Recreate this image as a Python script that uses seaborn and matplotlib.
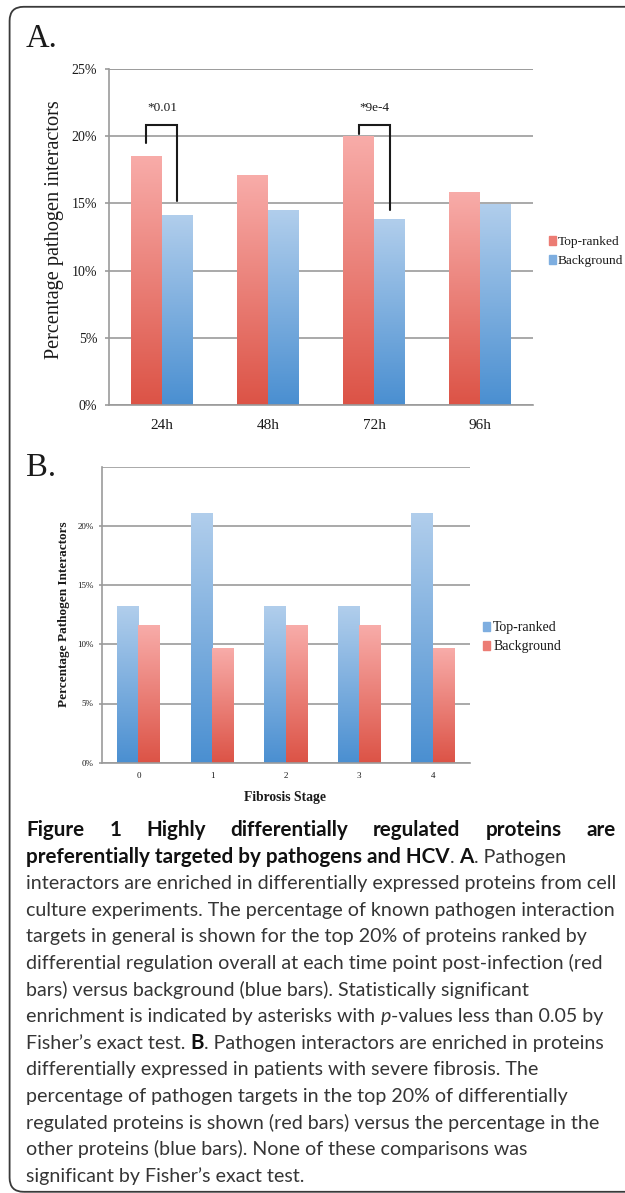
import numpy as np
import pandas as pd
import seaborn as sns
import matplotlib.pyplot as plt
from matplotlib.colors import LinearSegmentedColormap, to_hex
from matplotlib.patches import FancyBboxPatch, Patch

#%% data
# panel A: percentage pathogen interactors per time point
times = ['24h', '48h', '72h', '96h']
a_top = [18.5, 17.1, 20.0, 15.8]
a_bg = [14.1, 14.5, 13.8, 14.9]
a_ticks = [0, 5, 10, 15, 20, 25]
# significance brackets over panel A
sig_idx = [0, 2]
sig_txt = ['*0.01', '*9e-4']
sig_top = [20.8, 20.8]
sig_left = [19.5, 20.2]
sig_right = [15.2, 14.5]
sig_label_y = 22.1

# panel B: percentage pathogen interactors per fibrosis stage
stages = ['0', '1', '2', '3', '4']
b_top = [13.2, 21.1, 13.2, 13.2, 21.1]
b_bg = [11.6, 9.7, 11.6, 11.6, 9.7]
b_ticks = [0, 5, 10, 15, 20]

groups = ['Top-ranked', 'Background']

# caption, one list of (text, style) segments per printed line
caption = [
    [('Figure 1 Highly differentially regulated proteins are', 'b')],
    [('preferentially targeted by pathogens and HCV', 'b'), ('. ', 'n'), ('A', 'b'), ('. Pathogen', 'n')],
    [('interactors are enriched in differentially expressed proteins from cell', 'n')],
    [('culture experiments. The percentage of known pathogen interaction', 'n')],
    [('targets in general is shown for the top 20% of proteins ranked by', 'n')],
    [('differential regulation overall at each time point post-infection (red', 'n')],
    [('bars) versus background (blue bars). Statistically significant', 'n')],
    [('enrichment is indicated by asterisks with ', 'n'), ('p', 'i'), ('-values less than 0.05 by', 'n')],
    [('Fisher\u2019s exact test. ', 'n'), ('B', 'b'), ('. Pathogen interactors are enriched in proteins', 'n')],
    [('differentially expressed in patients with severe fibrosis. The', 'n')],
    [('percentage of pathogen targets in the top 20% of differentially', 'n')],
    [('regulated proteins is shown (red bars) versus the percentage in the', 'n')],
    [('other proteins (blue bars). None of these comparisons was', 'n')],
    [('significant by Fisher\u2019s exact test.', 'n')],
]

#%% style
W, H = 625, 1193
RED = ['#f8aca9', '#dc5346']   # top, bottom of gradient
BLUE = ['#b1ceec', '#4a8fd1']
RED_MID, BLUE_MID = '#ec7c74', '#7eaee0'
GRID = '#9b9b9b'
BAR_W = 0.58
SERIF = 'Liberation Serif'
CAP_FONT = 'Lato'

sns.set_theme(style='white')
plt.rcParams['font.family'] = SERIF
plt.rcParams['text.color'] = '#1a1a1a'
plt.rcParams['xtick.color'] = GRID
plt.rcParams['ytick.color'] = GRID
plt.rcParams['xtick.labelcolor'] = '#1a1a1a'
plt.rcParams['ytick.labelcolor'] = '#1a1a1a'


def fx(px):
    return px / W


def fy(py):
    return 1 - py / H


def fill_gradient(ax, grads):
    # replace flat bar fills with a vertical light->dark ramp
    xlim, ylim = ax.get_xlim(), ax.get_ylim()
    ramp = np.linspace(0, 1, 256).reshape(-1, 1)
    for p in ax.patches:
        key = to_hex(p.get_facecolor())
        if key not in grads:
            continue
        cmap = LinearSegmentedColormap.from_list(key, grads[key][::-1])
        x0, y0, w, h = p.get_x(), p.get_y(), p.get_width(), p.get_height()
        ax.imshow(ramp, extent=[x0, x0 + w, y0, y0 + h], origin='lower',
                  aspect='auto', cmap=cmap, zorder=2, interpolation='bilinear')
        p.set_facecolor('none')
        p.set_edgecolor('none')
    ax.set_xlim(xlim)
    ax.set_ylim(ylim)


def style_axes(ax, n, ticks, tick_fs, xtick_fs, tick_len, pad_y, pad_x):
    sns.despine(ax=ax)
    ax.set_xlim(-0.5, n - 0.5)
    ax.set_ylim(0, 25)
    ax.set_yticks(ticks)
    ax.set_yticklabels([f'{t}%' for t in ticks])
    ax.yaxis.grid(True, color=GRID, lw=1.2)
    ax.xaxis.grid(False)
    ax.set_axisbelow(True)
    ax.axhline(25, color=GRID, lw=1.2, zorder=0.5)
    ax.set_xticks(np.arange(-0.5, n), minor=True)
    ax.tick_params(axis='x', which='major', length=0, labelsize=xtick_fs, pad=pad_x)
    ax.tick_params(axis='x', which='minor', length=tick_len, width=1.2, direction='out')
    ax.tick_params(axis='y', length=tick_len, width=1.2, pad=pad_y, labelsize=tick_fs, left=True)
    for s in ['left', 'bottom']:
        ax.spines[s].set_color(GRID)
        ax.spines[s].set_linewidth(1.2)
    ax.set_xlabel('')
    ax.set_ylabel('')


fig = plt.figure(figsize=(W / 100, H / 100), dpi=100)

#%% panel A
df_a = pd.DataFrame({'Time': times * 2, 'Pct': a_top + a_bg,
                     'Group': [groups[0]] * len(times) + [groups[1]] * len(times)})
ax_a = fig.add_axes([fx(108.8), fy(405), fx(533.3) - fx(108.8), (405 - 69) / H])
sns.barplot(data=df_a, x='Time', y='Pct', hue='Group', hue_order=groups,
            palette=[RED_MID, BLUE_MID], saturation=1, width=BAR_W, gap=0,
            legend=False, ax=ax_a)
style_axes(ax_a, len(times), a_ticks, 10, 11, 3.2, 5.2, 10)
fill_gradient(ax_a, {RED_MID: RED, BLUE_MID: BLUE})

off = BAR_W / 4
for i, txt, top, left, right in zip(sig_idx, sig_txt, sig_top, sig_left, sig_right):
    ax_a.plot([i - off, i - off, i + off, i + off], [left, top, top, right],
              color='#1a1a1a', lw=1.5, zorder=4, solid_joinstyle='miter')
    ax_a.text(i, sig_label_y, txt, ha='center', va='center', fontsize=9.5, zorder=4)

fig.text(fx(55), fy(230), 'Percentage pathogen interactors', rotation=90,
         ha='center', va='center', fontsize=14.6)
fig.text(fx(26), fy(46.7), 'A.', fontsize=23.5, va='baseline')
fig.legend(handles=[Patch(color=RED_MID, label=groups[0]), Patch(color=BLUE_MID, label=groups[1])],
           loc='center left', bbox_to_anchor=(fx(549), fy(251.7)), frameon=False,
           fontsize=9.6, handlelength=0.52, handleheight=0.6, handletextpad=0.16,
           labelspacing=0.5, borderpad=0, borderaxespad=0)

#%% panel B
df_b = pd.DataFrame({'Stage': stages * 2, 'Pct': b_top + b_bg,
                     'Group': [groups[0]] * len(stages) + [groups[1]] * len(stages)})
ax_b = fig.add_axes([fx(101.6), fy(762.7), fx(469.5) - fx(101.6), (762.7 - 466.7) / H])
sns.barplot(data=df_b, x='Stage', y='Pct', hue='Group', hue_order=groups,
            palette=[BLUE_MID, RED_MID], saturation=1, width=BAR_W, gap=0,
            legend=False, ax=ax_b)
style_axes(ax_b, len(stages), b_ticks, 6.5, 6.5, 2.2, 3.4, 6.5)
fill_gradient(ax_b, {RED_MID: RED, BLUE_MID: BLUE})

fig.text(fx(63.8), fy(614), 'Percentage Pathogen Interactors', rotation=90,
         ha='center', va='center', fontsize=9.5, fontweight='bold')
fig.text(fx(285.5), fy(797.3), 'Fibrosis Stage', ha='center', va='center',
         fontsize=9.8, fontweight='bold')
fig.text(fx(26), fy(476), 'B.', fontsize=23.5, va='baseline')
fig.legend(handles=[Patch(color=BLUE_MID, label=groups[0]), Patch(color=RED_MID, label=groups[1])],
           loc='center left', bbox_to_anchor=(fx(483.5), fy(637.3)), frameon=False,
           fontsize=10, handlelength=0.5, handleheight=0.6, handletextpad=0.2,
           labelspacing=0.44, borderpad=0, borderaxespad=0)

#%% caption
renderer = fig.canvas.get_renderer()
STYLES = {'n': dict(fontweight='normal', fontstyle='normal', color='#353535', family=CAP_FONT),
          'b': dict(fontweight='bold', fontstyle='normal', color='#111111', family=CAP_FONT),
          'i': dict(fontweight='normal', fontstyle='italic', color='#353535', family=CAP_FONT)}


def text_width(s, size, style):
    t = fig.text(0, 0, s, fontsize=size, **STYLES[style])
    w = t.get_window_extent(renderer).width
    t.remove()
    return w


# size the caption fonts so their lines span the same widths as in the figure
size_n = 14 * 589.5 / text_width(caption[3][0][0], 14, 'n')
size_b = 14 * 427 / text_width(caption[1][0][0], 14, 'b')
sizes = {'n': size_n, 'i': size_n, 'b': size_b}
x_left, x_right, base0, step = 26.3, 615.8, 836, 26.6

for k, line in enumerate(caption):
    y = base0 + k * step
    if k == 0:
        words = line[0][0].split()
        ws = [text_width(w_, size_b, 'b') for w_ in words]
        gap = (x_right - x_left - sum(ws)) / (len(words) - 1)
        x = x_left
        for w_, wd in zip(words, ws):
            fig.text(fx(x), fy(y), w_, fontsize=size_b, va='baseline', **STYLES['b'])
            x += wd + gap
        continue
    x = x_left
    for seg, st in line:
        sz = sizes[st]
        sp = text_width('a a', sz, st) - text_width('aa', sz, st)
        core = seg.strip(' ')
        x += (len(seg) - len(seg.lstrip(' '))) * sp
        fig.text(fx(x), fy(y), core, fontsize=sz, va='baseline', **STYLES[st])
        x += text_width(core, sz, st)
        x += (len(seg) - len(seg.rstrip(' '))) * sp

#%% rounded frame around the whole figure
frame = FancyBboxPatch((0.096, 0.012), 7.5, 11.85, boxstyle='round,pad=0,rounding_size=0.14',
                       transform=fig.dpi_scale_trans, fill=False, ec='#3a3a3a', lw=1.3)
fig.add_artist(frame)

fig.savefig('out.png', dpi=100, facecolor='white')
